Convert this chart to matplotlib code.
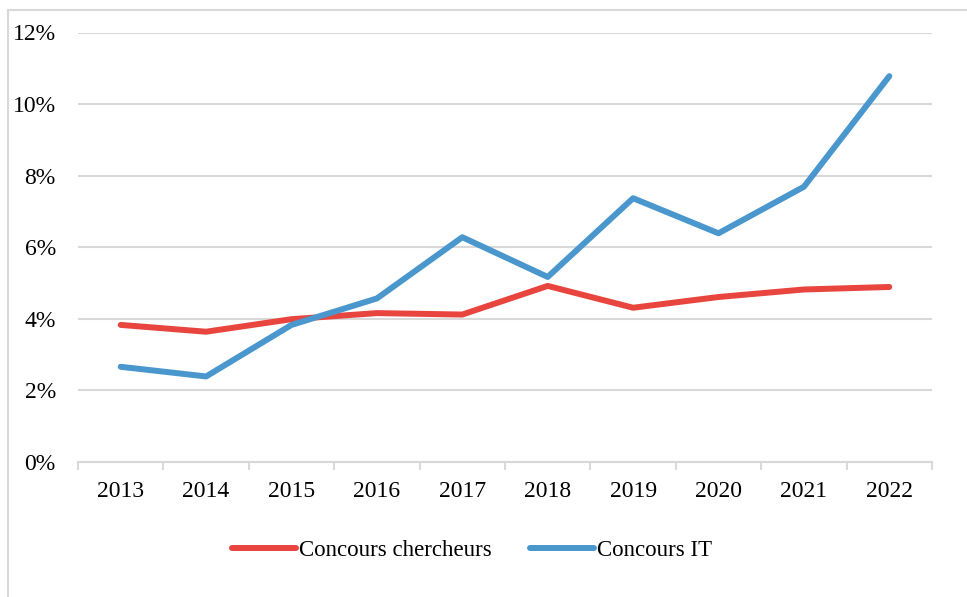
import matplotlib.pyplot as plt
from matplotlib.patches import Rectangle
from matplotlib.ticker import FuncFormatter, FixedLocator

years = ["2013", "2014", "2015", "2016", "2017", "2018", "2019", "2020", "2021", "2022"]
chercheurs = [3.83, 3.64, 3.99, 4.16, 4.12, 4.92, 4.31, 4.61, 4.82, 4.89]
it = [2.66, 2.39, 3.83, 4.57, 6.28, 5.17, 7.37, 6.39, 7.69, 10.78]

RED = "#E8453F"
BLUE = "#4A97CE"
GRID = "#D9D9D9"

plt.rcParams["font.family"] = ["Liberation Serif", "DejaVu Serif"]

fig = plt.figure(figsize=(9.67, 5.97), dpi=100)
ax = fig.add_axes([78 / 967, 1 - 462 / 597, 854 / 967, (462 - 32.5) / 597])

# outer chart frame (partially visible)
fig.patches.append(Rectangle((8 / 967, -0.1), 1.2, 1 - 10 / 597 + 0.1,
                             transform=fig.transFigure, fill=False,
                             edgecolor=GRID, linewidth=1.5, zorder=0))

x = list(range(len(years)))
ax.plot(x, chercheurs, color=RED, lw=4.3, solid_capstyle="round",
        solid_joinstyle="round", label="Concours chercheurs", zorder=3)
ax.plot(x, it, color=BLUE, lw=4.3, solid_capstyle="round",
        solid_joinstyle="round", label="Concours IT", zorder=3)

ax.set_xlim(-0.5, len(years) - 0.5)
ax.set_ylim(0, 12)
ax.set_yticks(range(0, 13, 2))
ax.yaxis.set_major_formatter(FuncFormatter(lambda v, p: f"{v:.0f}%"))
ax.grid(axis="y", color=GRID, lw=1.5)
ax.set_axisbelow(True)

ax.set_xticks(x)
ax.set_xticklabels(years)
ax.xaxis.set_minor_locator(FixedLocator([i - 0.5 for i in range(len(years) + 1)]))
ax.tick_params(axis="x", which="major", length=0, pad=14, labelsize=17)
ax.tick_params(axis="x", which="minor", length=6, width=1.5, color=GRID)
ax.tick_params(axis="y", length=0, pad=16, labelsize=17)

for s in ["top", "right", "left"]:
    ax.spines[s].set_visible(False)
ax.spines["bottom"].set_color(GRID)
ax.spines["bottom"].set_linewidth(1.5)

fig.legend(loc="center", bbox_to_anchor=(472 / 967, 1 - 550 / 597), ncol=2,
           frameon=False, fontsize=16.5, handlelength=2.8, handletextpad=0.1,
           columnspacing=1.7)

fig.savefig("out.png", dpi=100)
